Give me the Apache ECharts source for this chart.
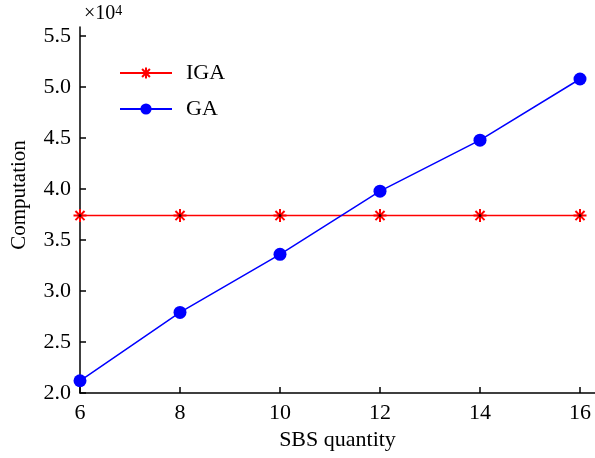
<!DOCTYPE html>
<html>
<head>
<meta charset="utf-8">
<script src="https://cdn.jsdelivr.net/npm/echarts@6/dist/echarts.min.js"></script>
<style>
  html, body { margin: 0; padding: 0; background: #fff; }
  #chart { width: 595px; height: 458px; }
</style>
</head>
<body>
<div id="chart"></div>
<script>
  // SBS quantity on x, computation (x10^4) on y
  const sbsQuantity = [6, 8, 10, 12, 14, 16];
  const igaValues = [3.74, 3.74, 3.74, 3.74, 3.74, 3.74];
  const gaValues = [2.12, 2.79, 3.36, 3.98, 4.48, 5.08];
  const xTicks = [6, 8, 10, 12, 14, 16];
  const yTicks = [2.0, 2.5, 3.0, 3.5, 4.0, 4.5, 5.0, 5.5];

  const font = '"Liberation Serif", "Times New Roman", serif';
  const asterisk = 'path://M10 0L10 20M0 10L20 10M3 3L17 17M17 3L3 17';

  const chart = echarts.init(document.getElementById('chart'));

  chart.setOption({
    animation: false,
    grid: {left: 80, right: 0, top: 27, bottom: 65},
    graphic: [{
      type: 'text',
      left: 84,
      top: 4,
      style: {
        text: '{a|×10}{b|4}',
        rich: {
          a: {fontFamily: font, fontSize: 20, fill: '#000'},
          b: {fontFamily: font, fontSize: 14, fill: '#000', verticalAlign: 'top'}
        }
      }
    }],
    legend: {
      orient: 'vertical',
      left: 114,
      top: 57,
      itemWidth: 52,
      itemHeight: 14,
      itemGap: 14,
      data: ['IGA', 'GA'],
      textStyle: {fontFamily: font, fontSize: 22, lineHeight: 22, color: '#000', padding: [0, 0, 0, 9]}
    },
    xAxis: {
      type: 'value',
      min: 6,
      max: 16.3,
      name: 'SBS quantity',
      nameLocation: 'middle',
      nameGap: 35,
      nameTextStyle: {fontFamily: font, fontSize: 22, color: '#000'},
      splitLine: {show: false},
      axisLine: {lineStyle: {color: '#000', width: 1.5}},
      axisTick: {inside: true, length: 6, customValues: xTicks, lineStyle: {color: '#000', width: 1.5}},
      axisLabel: {customValues: xTicks, margin: 9, fontFamily: font, fontSize: 22, color: '#000'}
    },
    yAxis: {
      type: 'value',
      min: 2,
      max: 5.59,
      name: 'Computation',
      nameLocation: 'middle',
      nameGap: 50,
      nameTextStyle: {fontFamily: font, fontSize: 21, color: '#000', padding: [0, 0, 0, 30]},
      splitLine: {show: false},
      axisLine: {lineStyle: {color: '#000', width: 1.5}},
      axisTick: {inside: true, length: 6, customValues: yTicks, lineStyle: {color: '#000', width: 1.5}},
      axisLabel: {
        customValues: yTicks,
        margin: 9,
        fontFamily: font,
        fontSize: 22,
        color: '#000',
        formatter: v => v.toFixed(1)
      }
    },
    series: [
      {
        name: 'IGA',
        type: 'line',
        data: sbsQuantity.map((x, i) => [x, igaValues[i]]),
        symbol: asterisk,
        symbolSize: 13,
        lineStyle: {color: '#ff0000', width: 1.5},
        itemStyle: {color: '#ff0000', borderColor: '#ff0000', borderWidth: 2}
      },
      {
        name: 'IGA',
        type: 'scatter',
        data: sbsQuantity.map((x, i) => [x, igaValues[i]]),
        symbol: 'circle',
        symbolSize: 3,
        itemStyle: {color: '#000'},
        z: 3
      },
      {
        name: 'GA',
        type: 'line',
        data: sbsQuantity.map((x, i) => [x, gaValues[i]]),
        symbol: 'circle',
        symbolSize: 13,
        lineStyle: {color: '#0000ff', width: 1.5},
        itemStyle: {color: '#0000ff'}
      }
    ]
  });
</script>
</body>
</html>
